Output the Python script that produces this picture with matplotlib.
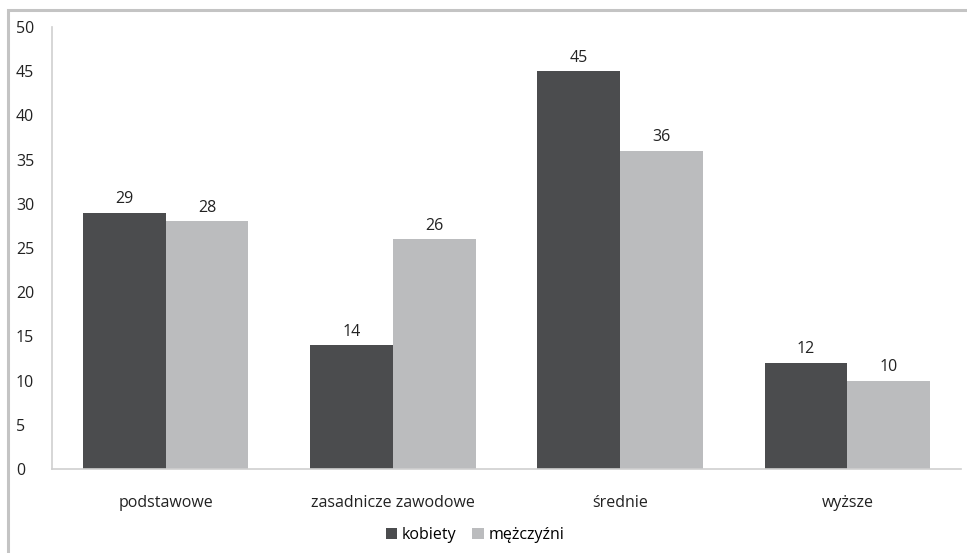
import numpy as np
import matplotlib.pyplot as plt
from matplotlib.patches import Rectangle

# education level by sex, percent
categories = ["podstawowe", "zasadnicze zawodowe", "średnie", "wyższe"]
kobiety = [29, 14, 45, 12]
mezczyzni = [28, 26, 36, 10]
series_names = ["kobiety", "mężczyźni"]

plt.rcParams['font.family'] = ['Open Sans', 'DejaVu Sans']

W, H = 967, 553
fig = plt.figure(figsize=(W / 100, H / 100), dpi=100)

# outer frame, cut off at right and bottom
fig.patches.append(Rectangle((8 / W, -0.05), 1.1, 1 - 10 / H + 0.05,
                             transform=fig.transFigure, fill=False,
                             edgecolor='#c4c4c4', linewidth=2.2))

ax = fig.add_axes([52 / W, 1 - 469 / H, (961 - 52) / W, (469 - 27) / H])

x = np.arange(len(categories))
bw = 1 / 2.75
dark = '#4b4c4e'
light = '#bbbcbe'
b1 = ax.bar(x - bw / 2, kobiety, bw, color=dark, label=series_names[0])
b2 = ax.bar(x + bw / 2, mezczyzni, bw, color=light, label=series_names[1])

for bars in (b1, b2):
    for r in bars:
        ax.annotate(f"{r.get_height():g}", (r.get_x() + r.get_width() / 2, r.get_height()),
                    xytext=(0, 4), textcoords='offset points',
                    ha='center', va='bottom', fontsize=11.5, color='#222222')

ax.set_xlim(-0.5, len(categories) - 0.5)
ax.set_ylim(0, 50)
ax.set_yticks(range(0, 51, 5))
ax.set_xticks(x)
ax.set_xticklabels(categories)
ax.tick_params(axis='both', length=0, labelsize=11.5, colors='#222222')
ax.tick_params(axis='x', pad=19)
ax.tick_params(axis='y', pad=26)
for lbl in ax.get_yticklabels():
    lbl.set_horizontalalignment('left')

for s in ('top', 'right'):
    ax.spines[s].set_visible(False)
for s in ('left', 'bottom'):
    ax.spines[s].set_color('#cfcfcf')
    ax.spines[s].set_linewidth(1.2)

fig.legend(loc='center', bbox_to_anchor=(475 / W, 1 - 535 / H), ncol=2,
           frameon=False, fontsize=11.5, handlelength=0.7, handleheight=0.7,
           handletextpad=0.3, columnspacing=1.0)

fig.savefig('out.png', dpi=100)
